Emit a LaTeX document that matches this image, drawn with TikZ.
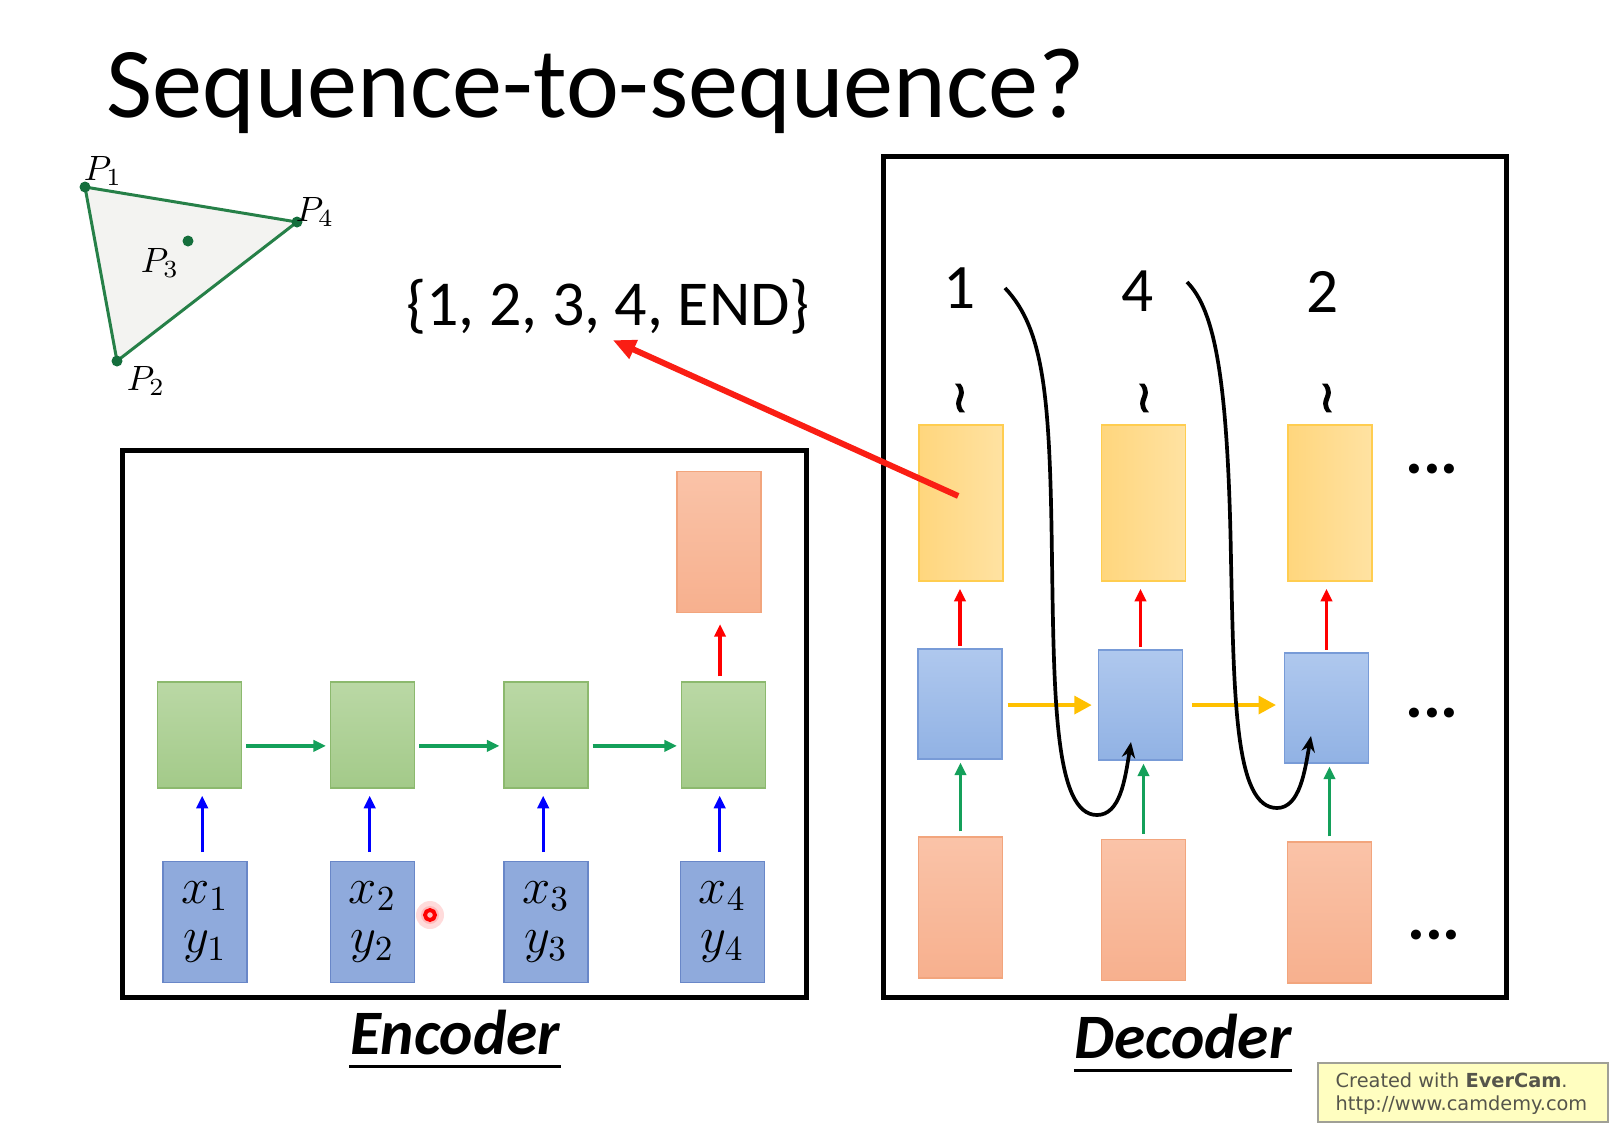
\documentclass[tikz,border=0pt]{standalone}
\usepackage{fontspec}
\setmainfont{Carlito}
\newfontfamily\wmfont{DejaVu Sans}
\newfontfamily\wavefont[FakeBold=3]{DejaVu Sans}
\usetikzlibrary{arrows.meta}
\definecolor{trigreen}{RGB}{38,128,72}
\definecolor{tridot}{RGB}{20,110,60}
\definecolor{trifill}{RGB}{243,243,241}
\definecolor{gtop}{RGB}{186,216,165}
\definecolor{gbot}{RGB}{163,202,137}
\definecolor{gborder}{RGB}{140,185,110}
\definecolor{inblue}{RGB}{143,170,220}
\definecolor{inborder}{RGB}{105,135,200}
\definecolor{btop}{RGB}{175,200,238}
\definecolor{bbot}{RGB}{145,178,228}
\definecolor{bborder}{RGB}{120,155,215}
\definecolor{yleft}{RGB}{255,214,125}
\definecolor{yright}{RGB}{255,226,162}
\definecolor{yborder}{RGB}{255,205,80}
\definecolor{otop}{RGB}{250,195,168}
\definecolor{obot}{RGB}{247,176,142}
\definecolor{oborder}{RGB}{242,165,125}
\definecolor{arrgreen}{RGB}{20,160,90}
\definecolor{arryellow}{RGB}{255,192,0}
\definecolor{arrred}{RGB}{250,30,20}
\definecolor{wmfill}{RGB}{255,254,192}
\definecolor{wmborder}{RGB}{160,160,150}
\definecolor{wmtext}{RGB}{85,85,75}
\tikzset{
  box/.style={inner sep=0pt, line width=0.35pt},
  gbox/.style={box, top color=gtop, bottom color=gbot, draw=gborder, minimum width=0.84cm, minimum height=1.06cm},
  inbox/.style={box, fill=inblue, draw=inborder, minimum width=0.84cm, minimum height=1.21cm, align=center,
     font=\fontsize{14}{14.2}\selectfont},
  bbox/.style={box, top color=btop, bottom color=bbot, draw=bborder, minimum width=0.84cm, minimum height=1.10cm},
  ybox/.style={box, left color=yleft, right color=yright, draw=yborder, minimum width=0.84cm, minimum height=1.56cm},
  obox/.style={box, top color=otop, bottom color=obot, draw=oborder, minimum width=0.84cm, minimum height=1.41cm},
  frame/.style={draw=black, line width=1.4pt, inner sep=0pt},
  thinarr/.style={line width=0.9pt, -{Triangle[length=3.6pt,width=3.2pt]}},
  yarr/.style={draw=arryellow, line width=1.3pt, -{Triangle[length=5pt,width=5pt]}},
  curvearr/.style={line width=1.05pt, -{Stealth[length=4.5pt,width=3.8pt]}},
  digit/.style={font=\fontsize{18}{20}\selectfont, anchor=base},
  plabel/.style={font=\fontsize{10}{11}\selectfont, inner sep=0pt},
  wave/.style={font=\wavefont\fontsize{12.5}{12.5}\selectfont, inner sep=0pt},
  dots/.style={font=\fontsize{19}{20}\selectfont\bfseries, anchor=base, inner sep=0pt},
  lbl/.style={font=\fontsize{18}{20}\selectfont\bfseries\itshape, anchor=base, inner sep=0pt},
}
\begin{document}
\begin{tikzpicture}[x=0.01cm,y=-0.01cm]
\fill[white] (0,0) rectangle (1620,1138);
\useasboundingbox (0,0) rectangle (1620,1138);

% title
\node[anchor=base west, inner sep=0pt, font=\fontsize{28.5}{30}\selectfont] (title) at (106,117) {Sequence-to-sequence?};

% triangle
\coordinate (p1) at (85,187);
\coordinate (p4) at (297,222);
\coordinate (p2) at (117,361);
\coordinate (p3) at (188,241);
\draw[trigreen, fill=trifill, line width=0.85pt, line join=round] (p1) -- (p4) -- (p2) -- cycle;
\foreach \p in {p1,p2,p3,p4} \fill[tridot] (\p) circle (5.5);
\node[plabel] (l1) at (103,171) {$P_1$};
\node[plabel] (l4) at (315,212) {$P_4$};
\node[plabel] (l3) at (160,263) {$P_3$};
\node[plabel] (l2) at (146,381) {$P_2$};

% output set
\node[anchor=base, inner sep=1pt, font=\fontsize{18.2}{20}\selectfont] (set) at (608,325) {\{1, 2, 3, 4, END\}};

% frames
\node[frame, minimum width=6.83cm, minimum height=5.46cm] (encframe) at (464.5,724) {};
\node[frame, minimum width=6.22cm, minimum height=8.40cm] (decframe) at (1195,577) {};

% encoder boxes
\node[gbox] (g1) at (199.5,735) {};
\node[gbox] (g2) at (372.5,735) {};
\node[gbox] (g3) at (546,735) {};
\node[gbox] (g4) at (723.5,735) {};
\node[inbox] (i1) at (205,922) {$x_1$\\$y_1$};
\node[inbox] (i2) at (372.5,922) {$x_2$\\$y_2$};
\node[inbox] (i3) at (546,922) {$x_3$\\$y_3$};
\node[inbox] (i4) at (722.5,922) {$x_4$\\$y_4$};
\node[obox] (oe) at (719,542) {};

\foreach \i in {1,2,3,4}
  \draw[thinarr, blue, shorten <=2.5pt, shorten >=2pt] ([xshift=-0.8pt]i\i.north) -- ([xshift=-0.8pt]i\i.north |- g\i.south);
\draw[thinarr, arrgreen, shorten <=1.1pt, shorten >=1.1pt] ([yshift=-3.1pt]g1.east) -- ([yshift=-3.1pt]g2.west);
\draw[thinarr, arrgreen, shorten <=1.1pt, shorten >=1.1pt] ([yshift=-3.1pt]g2.east) -- ([yshift=-3.1pt]g3.west);
\draw[thinarr, arrgreen, shorten <=1.1pt, shorten >=1.1pt] ([yshift=-3.1pt]g3.east) -- ([yshift=-3.1pt]g4.west);
\draw[thinarr, red, shorten <=1.4pt, shorten >=3.1pt] ([xshift=0.3pt]oe.south |- g4.north) -- ([xshift=0.3pt]oe.south);

% cursor mark
\fill[red!20, opacity=0.7] (430,915) circle (14);
\fill[red!35, opacity=0.6] (430,915) circle (9);
\draw[red, line width=1.1pt] (430,915) circle (5);

% decoder boxes
\node[ybox] (y1) at (961,503) {};
\node[ybox] (y2) at (1143.5,503) {};
\node[ybox] (y3) at (1330,503) {};
\node[bbox] (b1) at (960,704) {};
\node[bbox] (b2) at (1140.5,705) {};
\node[bbox] (b3) at (1326.5,708) {};
\node[obox] (o1) at (960.5,907.5) {};
\node[obox] (o2) at (1143.5,910) {};
\node[obox] (o3) at (1329.5,912.5) {};

\node[digit] (d1) at (960,308) {1};
\node[digit] (d2) at (1138,311) {4};
\node[digit] (d3) at (1323,312) {2};
\node[wave] (w1) at (960,398) {≀};
\node[wave] (w2) at (1144,398) {≀};
\node[wave] (w3) at (1327,398) {≀};

\foreach \i in {1,2,3} {
  \draw[thinarr, red, shorten <=0.8pt, shorten >=2pt] (b\i.north) -- (b\i.north |- y\i.south);
  \draw[thinarr, arrgreen, shorten <=1.4pt, shorten >=0.8pt] (o\i.north) -- (o\i.north |- b\i.south);
}
\draw[yarr, shorten <=1.4pt, shorten >=1.7pt] ([yshift=-0.3pt]b1.east) -- ([yshift=-0.3pt]b1.east -| b2.west);
\draw[yarr, shorten <=2.5pt, shorten >=2.2pt] (b2.east) -- (b2.east -| b3.west);

\node[dots] (e1) at (1432,473) {...};
\node[dots] (e2) at (1432,717) {...};
\node[dots] (e3) at (1434,939) {...};

% feedback curves
\coordinate (c1s) at (1005,288);
\coordinate (c2s) at (1187,282);
\draw[curvearr] (c1s) .. controls (1045,330) and (1050,400) .. (1052,560)
   .. controls (1054,700) and (1055,815) .. (1097,815)
   .. controls (1120,815) and (1125,780) .. (1131,742);
\draw[curvearr] (c2s) .. controls (1215,310) and (1228,380) .. (1231,560)
   .. controls (1234,700) and (1235,808) .. (1277,808)
   .. controls (1300,808) and (1305,770) .. (1311,736);

% big red arrow
\draw[arrred, line width=1.7pt, -{Triangle[length=6.5pt,width=5.5pt]}, shorten >=1.5pt] ([xshift=-0.8pt,yshift=2pt]y1.center) -- (set.south);

% labels
\node[lbl] (enc) at (455,1054) {Encoder};
\draw[line width=0.8pt] ([yshift=-3.6pt]enc.base west) -- ([yshift=-3.6pt]enc.base east);
\node[lbl] (dec) at (1183,1058) {Decoder};
\draw[line width=0.8pt] ([yshift=-3.6pt]dec.base west) -- ([yshift=-3.6pt]dec.base east);

% watermark
\node[draw=wmborder, fill=wmfill, line width=0.5pt, minimum width=2.90cm, minimum height=0.59cm, inner sep=0pt] (wm) at (1463,1092.5) {};
\node[anchor=base west, inner sep=0pt, text=wmtext, font=\wmfont\fontsize{5.5}{6}\selectfont] (wm1) at (1335,1087) {Created with \textbf{EverCam}.};
\node[anchor=base west, inner sep=0pt, text=wmtext, font=\wmfont\fontsize{5.5}{6}\selectfont] (wm2) at (1335,1110) {http://www.camdemy.com};
\end{tikzpicture}
\end{document}
